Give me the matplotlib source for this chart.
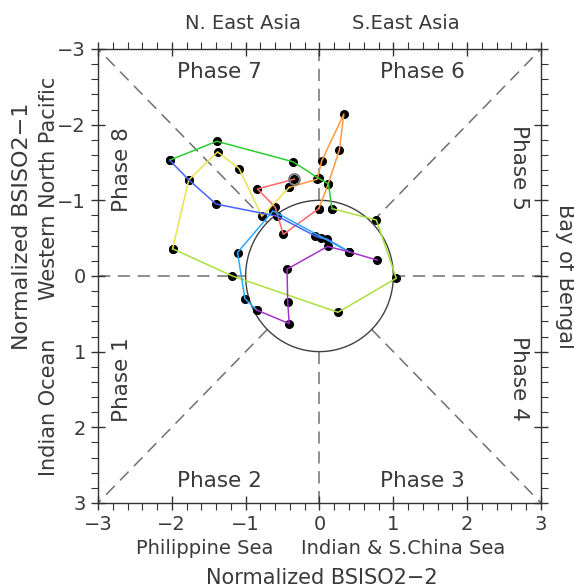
import numpy as np
import matplotlib.pyplot as plt
from matplotlib.ticker import MultipleLocator

# BSISO2 trajectory, split by colour (each piece starts where the last ended)
red_x = [-0.34, -0.84, -0.60, -0.49, -0.01]
red_y = [-1.28, -1.15, -0.91, -0.55, -0.89]
orange_x = [-0.01, 0.12, 0.27, 0.33, 0.03, -0.03, -0.41]
orange_y = [-0.89, -1.22, -1.67, -2.14, -1.52, -1.28, -1.17]
yellow_x = [-0.41, -0.78, -1.09, -1.38, -1.77, -1.99]
yellow_y = [-1.17, -0.79, -1.42, -1.64, -1.27, -0.36]
lgreen_x = [-1.99, -1.18, 0.25, 1.04, 0.77, 0.17]
lgreen_y = [-0.36, 0.00, 0.48, 0.03, -0.74, -0.89]
green_x = [0.17, 0.12, -0.01, -0.36, -1.39, -2.03]
green_y = [-0.89, -1.22, -1.29, -1.51, -1.78, -1.53]
blue_x = [-2.03, -1.77, -1.40, -0.57, -0.06, 0.02, 0.10, 0.40]
blue_y = [-1.53, -1.27, -0.95, -0.79, -0.53, -0.50, -0.49, -0.32]
sky_x = [0.40, -0.63, -1.11, -1.01, -0.85]
sky_y = [-0.32, -0.86, -0.31, 0.30, 0.45]
purple_x = [-0.85, -0.41, -0.43, -0.44, 0.11, 0.40, 0.78]
purple_y = [0.45, 0.63, 0.35, -0.09, -0.39, -0.32, -0.21]

segments = [
    (red_x, red_y, '#ff6666'),
    (orange_x, orange_y, '#ff9940'),
    (yellow_x, yellow_y, '#ebe050'),
    (lgreen_x, lgreen_y, '#aae23c'),
    (green_x, green_y, '#2ecc2e'),
    (blue_x, blue_y, '#4a63ff'),
    (sky_x, sky_y, '#2aa8ff'),
    (purple_x, purple_y, '#a833cc'),
]

phase_labels = ['Phase 1', 'Phase 2', 'Phase 3', 'Phase 4',
                'Phase 5', 'Phase 6', 'Phase 7', 'Phase 8']

fig = plt.figure(figsize=(5.74, 5.88), dpi=100)
ax = fig.add_axes([0.1707, 0.1446, 0.7718, 0.7721])
ax.set_xlim(-3, 3)
ax.set_ylim(3, -3)

tc = '#3a3a3a'
dash = dict(color='#707070', lw=1.1, ls=(0, (8, 5)), zorder=1)
# background phase lines
ax.plot([-3, -1], [0, 0], **dash)
ax.plot([1, 3], [0, 0], **dash)
ax.plot([0, 0], [-3, -1], **dash)
ax.plot([0, 0], [1, 3], **dash)
r = np.sqrt(0.5)
for sx in (-1, 1):
    for sy in (-1, 1):
        ax.plot([sx * r, sx * 3], [sy * r, sy * 3], **dash)
t = np.linspace(0, 2 * np.pi, 300)
ax.plot(np.cos(t), np.sin(t), color='#404040', lw=1.0, zorder=1)

# dots then lines
for xs, ys, c in segments:
    ax.plot(xs, ys, 'o', color='black', ms=5.5, zorder=3)
for xs, ys, c in segments:
    ax.plot(xs, ys, '-', color=c, lw=1.1, zorder=4)
ax.plot(red_x[0], red_y[0], 'o', ms=8, mfc='none', mec='#777777', mew=1.2, zorder=5)

pf = 15.5
ax.text(-1.36, -2.69, phase_labels[6], ha='center', va='center', fontsize=pf, color=tc)
ax.text(1.40, -2.69, phase_labels[5], ha='center', va='center', fontsize=pf, color=tc)
ax.text(-1.36, 2.71, phase_labels[1], ha='center', va='center', fontsize=pf, color=tc)
ax.text(1.40, 2.71, phase_labels[2], ha='center', va='center', fontsize=pf, color=tc)
ax.text(-2.67, -1.40, phase_labels[7], ha='center', va='center', fontsize=pf, color=tc, rotation=90)
ax.text(-2.67, 1.37, phase_labels[0], ha='center', va='center', fontsize=pf, color=tc, rotation=90)
ax.text(2.70, -1.43, phase_labels[4], ha='center', va='center', fontsize=pf, color=tc, rotation=-90)
ax.text(2.70, 1.35, phase_labels[3], ha='center', va='center', fontsize=pf, color=tc, rotation=-90)

# region names outside the frame
rf = 14
ax.text(-1.04, -3.34, 'N. East Asia', ha='center', va='center', fontsize=rf, color=tc)
ax.text(1.17, -3.34, 'S.East Asia', ha='center', va='center', fontsize=rf, color=tc)
ax.text(-1.56, 3.60, 'Philippine Sea', ha='center', va='center', fontsize=rf, color=tc)
ax.text(1.13, 3.60, 'Indian & S.China Sea', ha='center', va='center', fontsize=rf, color=tc)
ax.text(-3.66, -1.16, 'Western North Pacific', ha='center', va='center', fontsize=15, color=tc, rotation=90)
ax.text(-3.66, 1.73, 'Indian Ocean', ha='center', va='center', fontsize=15, color=tc, rotation=90)
ax.text(3.33, 0.0, 'Bay of Bengal', ha='center', va='center', fontsize=15, color=tc, rotation=-90)

# axis titles
ax.text(0.03, 3.99, 'Normalized BSISO2\u22122', ha='center', va='center', fontsize=15, color=tc)
ax.text(-4.03, -0.66, 'Normalized BSISO2\u22121', ha='center', va='center', fontsize=16, color=tc, rotation=90)

for sp in ax.spines.values():
    sp.set_color('#333333')
    sp.set_linewidth(1.0)
ax.xaxis.set_major_locator(MultipleLocator(1))
ax.yaxis.set_major_locator(MultipleLocator(1))
ax.xaxis.set_minor_locator(MultipleLocator(0.2))
ax.yaxis.set_minor_locator(MultipleLocator(0.2))
ax.tick_params(which='major', direction='inout', length=10, width=1.0, color='#333333',
               labelsize=14, labelcolor=tc, top=True, right=True)
ax.tick_params(which='minor', direction='out', length=5, width=0.8, color='#333333',
               top=True, right=True)

fig.savefig('out.png', dpi=100)
